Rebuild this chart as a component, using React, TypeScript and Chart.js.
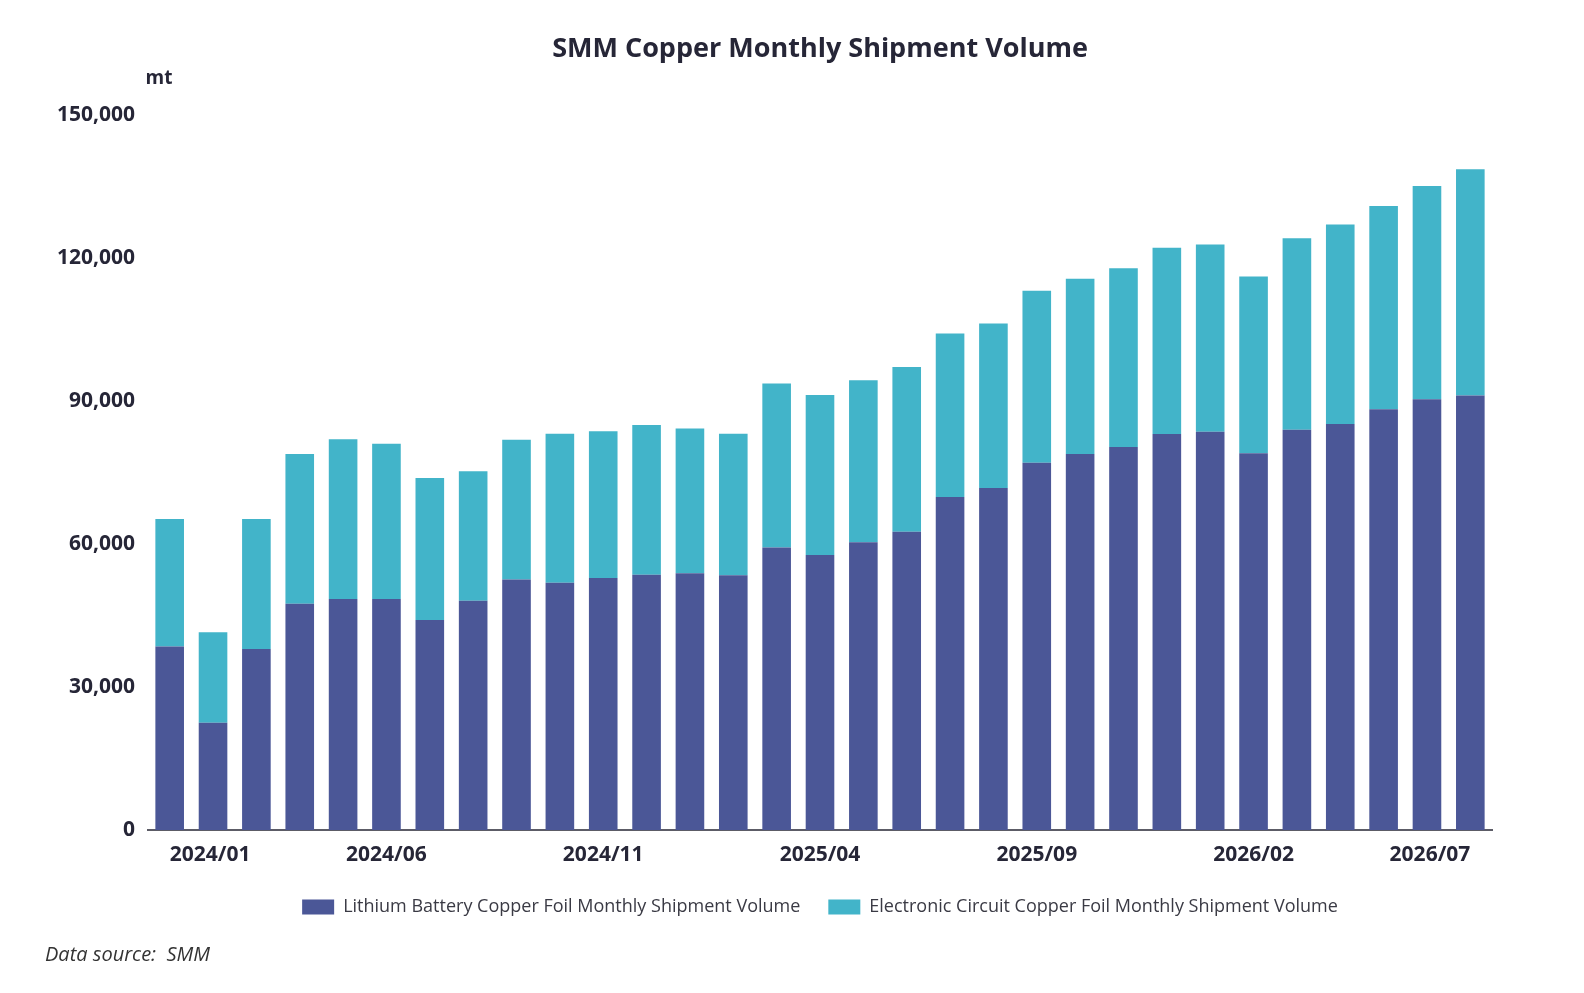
import React, { useEffect, useRef } from "react";
import { Chart, registerables } from "chart.js";

Chart.register(...registerables);

const months: string[] = [
  "2024/01", "2024/02", "2024/03", "2024/04", "2024/05", "2024/06", "2024/07", "2024/08",
  "2024/09", "2024/10", "2024/11", "2024/12", "2025/01", "2025/02", "2025/03", "2025/04",
  "2025/05", "2025/06", "2025/07", "2025/08", "2025/09", "2025/10", "2025/11", "2025/12",
  "2026/01", "2026/02", "2026/03", "2026/04", "2026/05", "2026/06", "2026/07",
];

const lithiumBattery: number[] = [
  38500, 22500, 38000, 47500, 48500, 48500, 44100, 48100, 52600, 51900, 52900,
  53600, 53900, 53500, 59300, 57700, 60400, 62600, 69900, 71800, 77100, 78900,
  80400, 83100, 83600, 79100, 84000, 85200, 88300, 90400, 91200,
];

const electronicCircuit: number[] = [
  26800, 19000, 27300, 31400, 33500, 32600, 29800, 27200, 29300, 31300, 30800,
  31400, 30400, 29700, 34400, 33600, 34000, 34600, 34300, 34500, 36100, 36800,
  37500, 39100, 39300, 37100, 40200, 41900, 42700, 44800, 47500,
];

const yTicks: number[] = [0, 30000, 60000, 90000, 120000, 150000];

const TITLE = "SMM Copper Monthly Shipment Volume";
const UNIT = "mt";
const SOURCE = "Data source:  SMM";
const SERIES_NAMES = [
  "Lithium Battery Copper Foil Monthly Shipment Volume",
  "Electronic Circuit Copper Foil Monthly Shipment Volume",
];

const FONT = "'Open Sans', 'Noto Sans', sans-serif";
const TEXT = "#262637";

const extraText = {
  id: "extraText",
  afterDraw(chart: any) {
    const ctx = chart.ctx;
    ctx.save();
    ctx.fillStyle = TEXT;
    ctx.font = `700 19px ${FONT}`;
    ctx.textAlign = "center";
    ctx.textBaseline = "middle";
    ctx.fillText(UNIT, 159, 79);
    ctx.font = `italic 400 20px ${FONT}`;
    ctx.fillStyle = "#333333";
    ctx.textAlign = "left";
    ctx.fillText(SOURCE, 45, 955);
    ctx.restore();
  },
};

export default function App() {
  const ref = useRef<HTMLCanvasElement | null>(null);

  useEffect(() => {
    if (!ref.current) return;
    const chart = new Chart(ref.current, {
      type: "bar",
      data: {
        labels: months,
        datasets: [
          {
            label: SERIES_NAMES[0],
            data: lithiumBattery,
            backgroundColor: "#4b5797",
            barPercentage: 0.66,
            categoryPercentage: 1,
          },
          {
            label: SERIES_NAMES[1],
            data: electronicCircuit,
            backgroundColor: "#42b4c9",
            barPercentage: 0.66,
            categoryPercentage: 1,
          },
        ],
      },
      options: {
        animation: false,
        responsive: true,
        maintainAspectRatio: false,
        layout: { padding: { left: 0, right: 92, top: 0, bottom: 67 } },
        plugins: {
          title: {
            display: true,
            text: TITLE,
            fullSize: false,
            color: TEXT,
            font: { family: FONT, size: 27, weight: "bold" },
            padding: { top: 33, bottom: 50 },
          },
          legend: {
            position: "bottom",
            fullSize: false,
            labels: {
              boxWidth: 32,
              boxHeight: 15,
              padding: 28,
              color: "#3a3a44",
              font: { family: FONT, size: 18 },
            },
          },
          tooltip: { enabled: false },
        },
        scales: {
          x: {
            stacked: true,
            grid: { display: false, drawTicks: false },
            border: { display: true, color: "#5c5c66", width: 2 },
            ticks: {
              autoSkip: false,
              maxRotation: 0,
              minRotation: 0,
              align: "inner",
              padding: 12,
              color: TEXT,
              font: { family: FONT, size: 21, weight: "bold" },
              callback: function (this: any, value: any, index: number) {
                return index % 5 === 0 ? this.getLabelForValue(value) : "";
              },
            },
            afterFit: (scale: any) => {
              scale.height = 40;
            },
          },
          y: {
            stacked: true,
            min: yTicks[0],
            max: yTicks[yTicks.length - 1],
            grid: { display: false, drawTicks: false },
            border: { display: false },
            afterBuildTicks: (scale: any) => {
              scale.ticks = yTicks.map((v) => ({ value: v }));
            },
            ticks: {
              padding: 13,
              color: TEXT,
              font: { family: FONT, size: 21, weight: "bold" },
              callback: (v: any) => Number(v).toLocaleString("en-US"),
            },
            afterFit: (scale: any) => {
              scale.width = 148;
            },
          },
        },
      },
      plugins: [extraText],
    });
    return () => chart.destroy();
  }, []);

  return (
    <div style={{ position: "absolute", left: 0, top: 0, width: 1584, height: 993, background: "#ffffff" }}>
      <canvas ref={ref} />
    </div>
  );
}
